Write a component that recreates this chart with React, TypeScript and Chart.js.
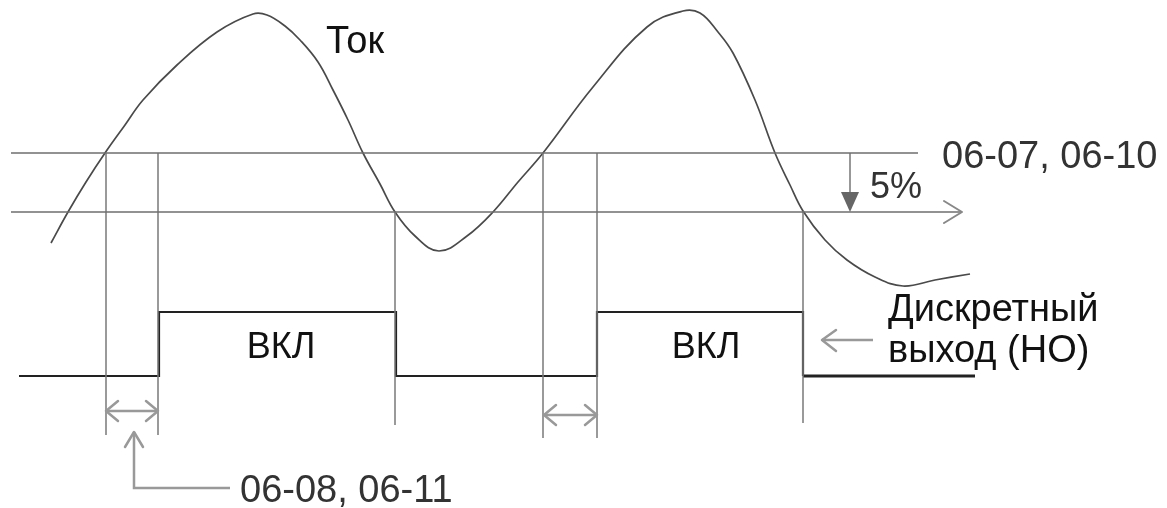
import React, { useEffect, useRef } from "react";
import { Chart, registerables } from "chart.js";

Chart.register(...registerables);

// Current waveform ("Ток") (x = time, y = level, screen-down)
const curveX = [51, 68, 86, 105, 125, 143, 177, 217, 253, 267, 285, 300, 318, 333, 348, 363, 380, 395, 415, 439, 467, 493, 518, 543, 593, 647, 683, 700, 718, 733, 755, 775, 790, 803, 825, 847, 875, 903, 935, 970];
const curveY = [243, 212, 182, 153, 125, 100, 65, 32, 14, 15, 26, 40, 62, 90, 120, 153, 184, 212, 236, 251, 236, 212, 182, 153, 87, 27, 11, 13, 32, 53, 100, 153, 185, 211, 240, 260, 277, 286, 280, 274];

// Threshold levels: 06-07/06-10 and the 5% lower release level
const thresholdLevels = [153, 212];
const thresholdStart = [11, 11];
const thresholdEnd = [918, 962];

// Vertical event markers
const markerX = [106, 158, 395, 543, 597, 803];
const markerTop = [153, 153, 212, 153, 153, 211];
const markerBottom = [435, 435, 425, 438, 438, 423];

// Digital output (НО) waveform
const pulseX = [19, 159, 159, 396, 396, 597, 597, 803, 803];
const pulseY = [376, 376, 312, 312, 376, 376, 312, 312, 376];
const pulseTailX = [803, 975];
const pulseTailY = [376, 376];

// Delay intervals (06-08, 06-11)
const delayStart = [106, 544];
const delayEnd = [158, 597];
const delayLevel = [411, 415];

// Text labels
const labelCurrent = "Ток";
const labelThreshold = "06-07, 06-10";
const labelPercent = "5%";
const labelOn = "ВКЛ";
const labelOutput1 = "Дискретный";
const labelOutput2 = "выход (НО)";
const labelDelay = "06-08, 06-11";

const FONT = '"Liberation Sans", Arial, sans-serif';

const overlayPlugin = {
  id: "overlay",
  afterDatasetsDraw(chart: any) {
    const ctx = chart.ctx as CanvasRenderingContext2D;
    const xs = chart.scales.x;
    const ys = chart.scales.y;
    const X = (v: number) => xs.getPixelForValue(v);
    const Y = (v: number) => ys.getPixelForValue(v);

    const chevron = (tx: number, ty: number, ax: number, ay: number, bx: number, by: number, color: string, w: number) => {
      ctx.save();
      ctx.strokeStyle = color;
      ctx.lineWidth = w;
      ctx.lineCap = "round";
      ctx.lineJoin = "round";
      ctx.beginPath();
      ctx.moveTo(X(ax), Y(ay));
      ctx.lineTo(X(tx), Y(ty));
      ctx.lineTo(X(bx), Y(by));
      ctx.stroke();
      ctx.restore();
    };

    const arrowGrey = "#999999";

    // right arrowhead on lower threshold line
    chevron(thresholdEnd[1], thresholdLevels[1], thresholdEnd[1] - 18, thresholdLevels[1] - 11, thresholdEnd[1] - 18, thresholdLevels[1] + 11, "#888888", 2);

    // 5% filled triangle
    ctx.save();
    ctx.fillStyle = "#666666";
    ctx.beginPath();
    ctx.moveTo(X(850), Y(thresholdLevels[1]));
    ctx.lineTo(X(841), Y(192));
    ctx.lineTo(X(859), Y(192));
    ctx.closePath();
    ctx.fill();
    ctx.restore();

    // double arrows for delays
    for (let i = 0; i < delayStart.length; i++) {
      const a = delayStart[i];
      const b = delayEnd[i];
      const y = delayLevel[i];
      chevron(a, y, a + 12, y - 10, a + 12, y + 10, arrowGrey, 2.5);
      chevron(b, y, b - 12, y - 10, b - 12, y + 10, arrowGrey, 2.5);
    }

    // up arrow head (L-shaped pointer)
    chevron(134, 432, 125, 447, 143, 447, arrowGrey, 2.5);

    // left arrow head pointing at output
    chevron(822, 340, 836, 330, 836, 351, arrowGrey, 2.5);

    // texts
    ctx.save();
    ctx.textBaseline = "alphabetic";
    ctx.textAlign = "left";
    ctx.fillStyle = "#111111";
    ctx.font = `38px ${FONT}`;
    ctx.fillText(labelCurrent, X(326), Y(53));

    ctx.fillStyle = "#333333";
    ctx.font = `38px ${FONT}`;
    ctx.fillText(labelThreshold, X(942), Y(168));

    ctx.font = `36px ${FONT}`;
    ctx.fillText(labelPercent, X(870), Y(198));

    ctx.fillStyle = "#111111";
    ctx.font = `36px ${FONT}`;
    ctx.textAlign = "center";
    ctx.fillText(labelOn, X(281), Y(358));
    ctx.fillText(labelOn, X(706), Y(358));

    ctx.textAlign = "left";
    ctx.font = `38px ${FONT}`;
    ctx.fillText(labelOutput1, X(888), Y(321));
    ctx.fillText(labelOutput2, X(888), Y(362));

    ctx.fillStyle = "#333333";
    ctx.font = `38px ${FONT}`;
    ctx.fillText(labelDelay, X(240), Y(502));
    ctx.restore();
  },
};

function pts(xs: number[], ys: number[]) {
  return xs.map((x, i) => ({ x, y: ys[i] }));
}

export default function App() {
  const ref = useRef<HTMLCanvasElement | null>(null);

  useEffect(() => {
    if (!ref.current) return;
    const datasets: any[] = [];
    const line = (data: any[], color: string, width: number, extra: any = {}) => ({
      data,
      showLine: true,
      borderColor: color,
      borderWidth: width,
      pointRadius: 0,
      fill: false,
      clip: false,
      tension: 0,
      ...extra,
    });

    // threshold lines
    thresholdLevels.forEach((lv, i) => {
      datasets.push(line(pts([thresholdStart[i], thresholdEnd[i]], [lv, lv]), "#6e6e6e", 1.6));
    });
    // markers
    markerX.forEach((mx, i) => {
      datasets.push(line(pts([mx, mx], [markerTop[i], markerBottom[i]]), "#7a7a7a", 1.5));
    });
    // 5% arrow shaft
    datasets.push(line(pts([850, 850], [thresholdLevels[0], 195]), "#777777", 1.5));
    // delay arrows shafts
    delayStart.forEach((s, i) => {
      datasets.push(line(pts([s, delayEnd[i]], [delayLevel[i], delayLevel[i]]), "#999999", 2.5));
    });
    // L pointer to delay label
    datasets.push(line(pts([134, 134, 230], [432, 488, 488]), "#999999", 2.5));
    // pointer to output label
    datasets.push(line(pts([822, 873], [340, 340]), "#999999", 2.5));
    // output waveform
    datasets.push(line(pts(pulseX, pulseY), "#222222", 2.2));
    datasets.push(line(pts(pulseTailX, pulseTailY), "#222222", 3.2));
    // current curve
    datasets.push(line(pts(curveX, curveY), "#4a4a4a", 1.7, { tension: 0.4 }));

    const chart = new Chart(ref.current, {
      type: "scatter",
      data: { datasets },
      options: {
        animation: false,
        responsive: false,
        maintainAspectRatio: false,
        events: [],
        layout: { padding: 0 },
        plugins: { legend: { display: false }, tooltip: { enabled: false }, title: { display: false } },
        scales: {
          x: { type: "linear", min: 0, max: 1167, display: false },
          y: { type: "linear", min: 0, max: 508, reverse: true, display: false },
        },
      },
      plugins: [overlayPlugin],
    } as any);
    return () => chart.destroy();
  }, []);

  return (
    <div style={{ position: "absolute", left: 0, top: 0, width: 1167, height: 508, background: "#ffffff" }}>
      <canvas ref={ref} width={1167} height={508} style={{ display: "block", width: 1167, height: 508 }} />
    </div>
  );
}
